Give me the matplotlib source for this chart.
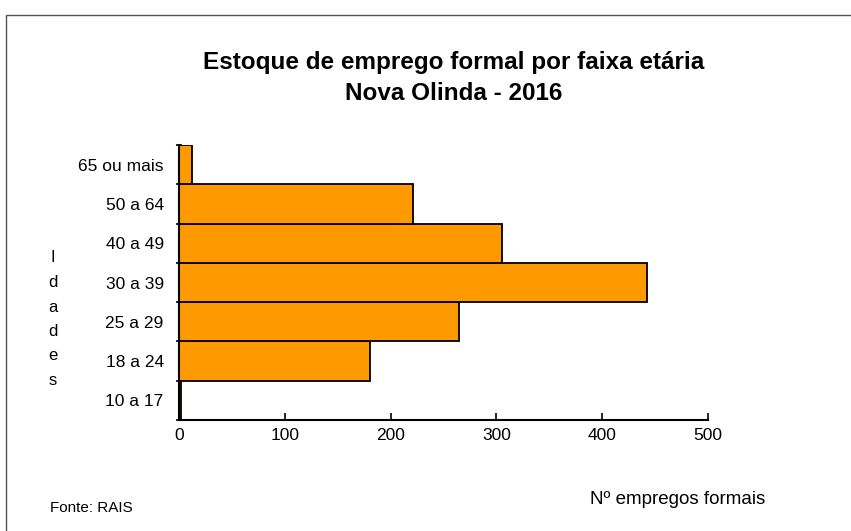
import matplotlib.pyplot as plt
from matplotlib.patches import Rectangle
import numpy as np

plt.rcParams['font.family'] = ['Liberation Sans', 'DejaVu Sans']

faixas = ['10 a 17', '18 a 24', '25 a 29', '30 a 39', '40 a 49', '50 a 64', '65 ou mais']
empregos = [2, 181, 265, 442, 305, 221, 12]

fig = plt.figure(figsize=(8.51, 5.31), dpi=100)
ax = fig.add_axes([179 / 851, 1 - 420 / 531, 529 / 851, 275 / 531])

pos = np.arange(len(faixas))
ax.barh(pos, empregos, height=1.0, color='#FF9900', edgecolor='black', linewidth=1.3)

ax.set_xlim(0, 500)
ax.set_ylim(-0.5, len(faixas) - 0.5)
ax.set_xticks([0, 100, 200, 300, 400, 500])
ax.set_yticks(pos)
ax.set_yticklabels(faixas)
ax.set_yticks(np.arange(len(faixas) + 1) - 0.5, minor=True)
ax.tick_params(axis='y', which='major', length=0, pad=11, labelsize=12.5)
ax.tick_params(axis='y', which='minor', length=4, width=1.2, direction='inout')
ax.tick_params(axis='x', length=5, width=1.2, direction='in', labelsize=12.5, pad=6)

for s in ['top', 'right']:
    ax.spines[s].set_visible(False)
for s in ['left', 'bottom']:
    ax.spines[s].set_linewidth(1.5)

fig.text(454 / 851, 1 - 62 / 531, 'Estoque de emprego formal por faixa etária',
         ha='center', va='center', fontsize=17.5, fontweight='bold')
fig.text(454 / 851, 1 - 93 / 531, 'Nova Olinda - 2016',
         ha='center', va='center', fontsize=17.5, fontweight='bold')

for i, ch in enumerate('Idades'):
    fig.text(53 / 851, 1 - (258 + i * 24.5) / 531, ch, ha='center', va='center', fontsize=12)

fig.text(50 / 851, 1 - 508 / 531, 'Fonte: RAIS', ha='left', va='center', fontsize=11)
fig.text(590 / 851, 1 - 500 / 531, 'Nº empregos formais', ha='left', va='center', fontsize=13.5)

# moldura cinza
fig.patches.append(Rectangle((6 / 851, -0.05), 1.0, 1 - 15 / 531 + 0.05, transform=fig.transFigure,
                             fill=False, edgecolor='#555555', linewidth=1.0))

fig.savefig('out.png', dpi=100)
